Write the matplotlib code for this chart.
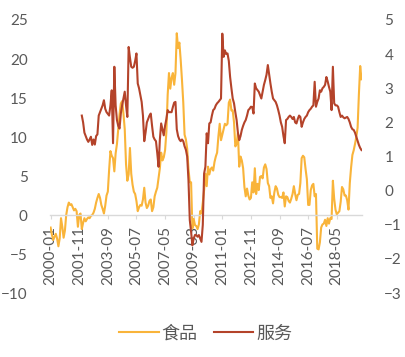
import numpy as np
import pandas as pd
import matplotlib
matplotlib.use('Agg')
import matplotlib.pyplot as plt

# meses de 2000-01 a 2019-12
meses = pd.date_range('2000-01-01', periods=240, freq='MS')
etiquetas = meses.strftime('%Y-%m')

# CPI alimentos (% a/a, eje izquierdo)
alimentos = [
    -1.6, -2.5, -3.2, -2.8, -2.4, -3.0, -4.0, -3.0, -0.4, -1.5, -2.9, -2.0,   # 2000
    0.0, 1.0, 1.6, 1.3, 1.4, 1.0, 0.6, 0.8, 0.5, -1.5, 0.0, 0.2,              # 2001
    -1.8, -1.0, -0.4, -0.8, -0.5, -0.3, -0.4, -0.1, 0.0, 0.3, 0.8, 1.6,       # 2002
    2.2, 2.7, 2.2, 1.3, 0.8, 0.2, 1.2, 2.5, 3.0, 5.8, 8.2, 7.6,               # 2003
    7.3, 5.6, 7.9, 9.1, 11.0, 12.9, 14.3, 14.6, 13.0, 11.0, 6.5, 4.4,         # 2004
    5.2, 8.6, 5.3, 3.9, 3.0, 2.7, 1.8, 0.5, 1.0, 1.3, 1.2, 2.0,               # 2005
    3.5, 1.6, 0.9, 1.2, 1.8, 2.0, 0.5, 1.0, 2.4, 3.0, 3.5, 4.7,               # 2006
    6.0, 8.0, 7.0, 7.4, 8.3, 10.6, 15.4, 18.2, 16.2, 17.6, 18.2, 16.7,        # 2007
    18.2, 23.3, 21.4, 22.1, 19.9, 17.3, 14.4, 10.3, 9.7, 8.5, 5.9, 4.2,       # 2008
    4.2, -1.7, -0.5, -1.3, -1.4, -1.8, -1.2, 0.5, 0.2, 1.6, 3.2, 5.3,         # 2009
    3.7, 6.2, 5.2, 5.9, 6.1, 5.7, 6.8, 7.5, 8.0, 10.1, 11.7, 9.6,             # 2010
    10.3, 11.0, 11.7, 11.5, 11.7, 14.4, 14.8, 13.4, 13.4, 11.9, 8.8, 9.1,     # 2011
    10.5, 6.2, 7.5, 7.0, 6.0, 3.6, 2.4, 3.4, 2.5, 2.0, 2.2, 4.2,              # 2012
    2.9, 6.0, 2.7, 4.0, 3.2, 4.9, 5.0, 4.7, 6.1, 6.5, 5.9, 4.1,               # 2013
    3.7, 2.2, 2.4, 1.5, 2.9, 3.7, 3.4, 2.6, 2.3, 2.3, 2.2, 2.9,               # 2014
    1.1, 2.4, 2.3, 1.8, 1.6, 2.1, 2.7, 3.7, 2.7, 1.9, 2.6, 2.7,               # 2015
    4.1, 7.3, 7.6, 7.4, 5.9, 4.6, 1.3, 1.3, 3.2, 3.8, 4.0, 2.4,               # 2016
    2.7, -4.3, -4.4, -3.5, -1.6, -1.2, -1.1, -0.6, -1.4, -0.4, -1.1, -0.4,    # 2017
    -0.5, 4.4, 2.1, 0.7, 0.1, 0.3, 0.5, 1.7, 3.6, 3.3, 2.5, 2.5,              # 2018
    1.9, 0.7, 4.1, 6.1, 7.7, 8.3, 9.1, 10.0, 11.2, 15.5, 19.1, 17.4,          # 2019
]

# CPI servicios (% a/a, eje derecho), empieza en 2002-01
inicio_servicios = 24
servicios = [
    2.2, 2.0, 1.7, 1.6, 1.5, 1.43, 1.5, 1.58, 1.34, 1.5, 1.35, 1.6,           # 2002
    1.65, 2.2, 2.3, 2.4, 2.5, 2.65, 2.4, 2.3, 2.25, 2.2, 2.5, 2.94,           # 2003
    1.39, 3.63, 2.5, 2.07, 1.9, 1.82, 2.26, 2.5, 2.7, 2.9, 2.5, 2.16,         # 2004
    4.21, 3.9, 3.63, 3.6, 3.63, 3.8, 4.02, 3.14, 3.0, 2.8, 2.6, 2.2,          # 2005
    1.45, 1.7, 2.0, 2.1, 2.2, 2.26, 1.9, 1.58, 1.5, 1.45, 1.1, 0.7,           # 2006
    1.5, 1.97, 1.8, 1.62, 1.9, 2.1, 2.36, 2.3, 2.3, 2.3, 2.45, 2.58,          # 2007
    2.6, 1.8, 1.6, 1.5, 1.45, 1.5, 1.45, 1.3, 1.2, 1.0, 0.3, -0.86,           # 2008
    -1.2, -1.6, -1.4, -1.3, -1.3, -1.35, -1.3, -1.4, -1.5, -1.0, 0.5, 0.7,    # 2009
    1.68, 1.39, 1.97, 2.0, 2.2, 2.36, 2.4, 2.5, 2.56, 2.6, 2.65, 2.7,         # 2010
    4.6, 3.92, 4.11, 4.0, 4.02, 3.8, 3.33, 3.0, 2.7, 2.56, 2.3, 2.07,         # 2011
    1.7, 1.48, 1.6, 1.78, 1.9, 2.0, 2.07, 2.2, 2.36, 2.4, 2.46, 2.45,         # 2012
    2.26, 3.14, 3.0, 2.95, 2.9, 2.8, 2.7, 2.9, 3.1, 3.24, 3.4, 3.68,          # 2013
    3.4, 3.14, 2.9, 2.7, 2.65, 2.6, 2.5, 2.36, 2.2, 2.0, 1.87, 1.6,           # 2014
    1.39, 2.07, 2.1, 2.16, 2.2, 2.16, 2.1, 2.16, 2.0, 1.97, 2.1, 2.2,         # 2015
    2.16, 1.87, 2.0, 2.1, 2.16, 2.2, 2.3, 2.36, 2.4, 2.46, 2.5, 3.19,         # 2016
    2.46, 2.6, 2.7, 2.94, 2.9, 3.0, 3.04, 3.1, 3.33, 3.2, 3.04, 2.9,          # 2017
    2.36, 3.63, 2.56, 2.5, 2.5, 2.46, 2.3, 2.16, 2.2, 2.15, 2.12, 2.14,       # 2018
    2.16, 2.1, 2.0, 1.87, 1.8, 1.78, 1.7, 1.58, 1.45, 1.34, 1.25, 1.19,       # 2019
]

gris = '#595959'
plt.rcParams['font.family'] = ['Lato', 'DejaVu Sans']

x = np.arange(len(meses))

fig = plt.figure(figsize=(4.06, 3.57), dpi=100)
ax = fig.add_axes([0.123, 0.179, 0.769, 0.765])
ax2 = ax.twinx()

l1, = ax.plot(x, alimentos, color='#F9B43A', lw=1.5)
l2, = ax2.plot(x[inicio_servicios:], servicios, color='#B4432A', lw=1.5)

ax.set_xlim(-0.5, 239.5)
ax.set_ylim(-10, 25)
ax2.set_ylim(-3, 5)
ax.set_yticks(np.arange(-10, 26, 5))
ax2.set_yticks(np.arange(-3, 6, 1))

# eje x en el cero
for s in ['top', 'right', 'left']:
    ax.spines[s].set_visible(False)
for s in ax2.spines.values():
    s.set_visible(False)
ax.spines['bottom'].set_position(('data', 0))
ax.spines['bottom'].set_color('#D9D9D9')
ax.spines['bottom'].set_linewidth(1)

ax.set_xticks(x[::22])
ax.set_xticklabels(etiquetas[::22], rotation=90)
ax.tick_params(axis='x', length=3, color='#D9D9D9', labelsize=11, labelcolor=gris, pad=5)
ax.tick_params(axis='y', length=0, labelsize=11, labelcolor=gris, pad=16)
ax2.tick_params(axis='y', length=0, labelsize=11, labelcolor=gris, pad=16)

# leyenda abajo
fig.legend([l1, l2], ['食品', '服务'], loc='center', bbox_to_anchor=(0.506, 0.065),
           ncol=2, frameon=False, handlelength=2.2, handletextpad=0.15, columnspacing=0.9,
           prop={'family': ['Noto Sans CJK SC', 'DejaVu Sans'], 'size': 13}, labelcolor=gris)

fig.savefig('out.png', dpi=100)
